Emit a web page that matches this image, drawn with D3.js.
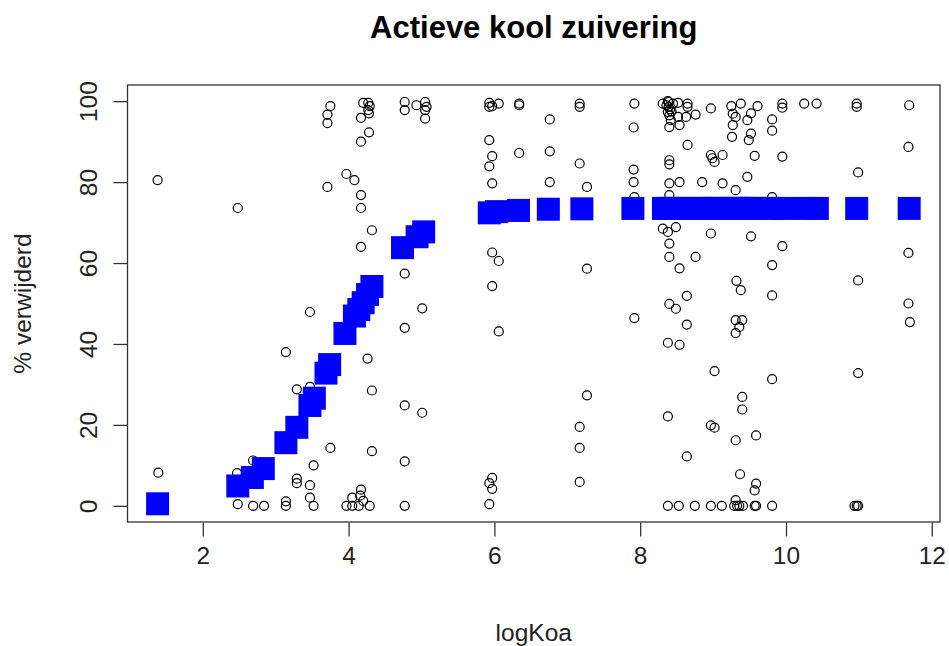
<!DOCTYPE html>
<html>
<head>
<meta charset="utf-8">
<script src="https://cdn.jsdelivr.net/npm/d3@7"></script>
<style>
  body { margin: 0; background: #fff; }
  svg text { font-family: "Liberation Sans", Arial, sans-serif; }
</style>
</head>
<body>
<div id="chart"></div>
<script>
// observed points (open circles)
const logKoa = [
  1.38, 1.39, 2.48, 2.47, 2.48, 2.69, 2.69, 2.84,
  3.14, 3.14, 3.14, 3.29, 3.29, 3.29, 3.47, 3.47, 3.47, 3.47, 3.52, 3.52,
  3.71, 3.71, 3.71, 3.75, 3.75,
  3.97, 4.08, 4.17, 4.17, 4.17, 4.32, 4.17, 4.28, 4.17,
  4.20, 4.27, 4.29, 4.27, 4.28,
  4.26, 4.32, 4.32,
  3.97, 4.05, 4.16, 4.17, 4.05, 4.14, 4.29, 4.20,
  4.77, 4.77, 4.93, 5.05, 5.07, 5.05, 5.05,
  4.77, 4.77, 4.77, 4.77, 4.77, 5.01, 5.01,
  5.93, 5.97, 5.93, 6.06, 6.34, 6.34,
  5.93, 5.97, 5.93, 5.97, 5.97, 6.06, 5.97, 6.06,
  5.97, 5.93, 5.97, 5.93,
  6.34, 6.76, 6.76, 6.76,
  7.17, 7.17, 7.17, 7.27, 7.27, 7.27, 7.17, 7.17, 7.17,
  7.92, 7.91, 7.91, 7.91, 7.92, 7.92,
  8.31, 8.39, 8.39, 8.45, 8.52, 8.65, 8.65, 8.38, 8.40, 8.42, 8.40, 8.52, 8.54, 8.63, 8.76, 8.97, 8.65,
  8.36, 8.41, 8.38, 8.43,
  8.40, 8.40, 8.40, 8.54, 8.40, 8.85,
  8.97, 9.02, 9.13, 8.99,
  9.13, 9.31, 9.47,
  9.25, 9.38, 9.27, 9.31, 9.27, 9.26, 9.47, 9.52, 9.61, 9.49, 9.52, 9.57,
  9.81, 9.81, 9.95, 9.95, 10.25, 10.42, 9.95, 9.81,
  10.97, 10.97, 11.69, 11.68, 10.99,
  8.31, 8.38, 8.49, 8.40, 8.40, 8.54, 8.76, 8.97, 9.52, 9.32, 9.38, 8.64, 8.40, 8.49,
  8.64, 8.38, 8.54,
  9.31, 9.40, 9.36, 9.31,
  9.02, 8.38, 8.97, 9.02, 9.40, 9.40, 9.31, 9.59, 8.64, 9.37, 9.59, 9.57,
  8.38, 8.53, 8.75, 8.97, 9.12, 9.29, 9.36, 9.59, 9.31, 9.33, 9.41, 9.57, 9.81, 10.94, 10.97, 10.99,
  9.95, 9.81, 9.81, 10.99, 11.68, 11.68, 11.70, 10.99, 9.81
];
const pctRemoved = [
  80.5, 8.2, 73.6, 8.1, 0.4, 11.2, 0, 0,
  38, 1.1, 0, 28.8, 6.7, 5.6, 47.9, 29.4, 5.1, 2, 10, 0,
  96.7, 94.6, 78.8, 98.8, 14.3,
  82, 80.5, 76.8, 73.6, 64, 68.1, 95.9, 92.3, 90,
  99.6, 99.6, 98.8, 97.8, 97,
  36.4, 28.5, 13.5,
  0, 2, 2.5, 4, 0, 0, 0, 1.2,
  99.8, 97.8, 99, 99.8, 98.6, 97.8, 95.7,
  57.4, 44, 24.8, 11, 0, 48.8, 23,
  99.6, 98.8, 98.6, 99.4, 99.4, 99,
  90.4, 86.4, 83.9, 79.7, 62.6, 60.5, 54.3, 43.1,
  6.9, 5.6, 4.2, 0.4,
  87.2, 95.5, 87.6, 80,
  99.4, 98.6, 84.6, 78.8, 58.6, 27.3, 19.5, 14.3, 5.9,
  99.4, 93.5, 83.1, 80, 76.3, 46.4,
  99.4, 99.8, 98.6, 99.4, 99.6, 99.4, 98.6, 97.3, 96.5, 95.3, 93.6, 96.1, 94.1, 96.1, 96.7, 98.2, 89.2,
  99, 98, 100, 97.5,
  85.4, 84.4, 79.7, 80, 76.8, 80,
  86.7, 85, 86.7, 85.9,
  79.7, 78, 81.3,
  98.8, 99.4, 96.9, 96.1, 94.1, 91.2, 95.3, 97, 98.8, 90.4, 92, 86.5,
  95.5, 92.7, 99.4, 98.4, 99.4, 99.4, 86.3, 76.3,
  99.4, 98.6, 99, 88.7, 82.4,
  68.5, 67.7, 68.9, 64.8, 61.5, 58.7, 61.5, 67.3, 66.6, 55.6, 53.3, 51.9, 49.9, 48.7,
  44.8, 40.3, 39.8,
  45.9, 45.9, 44.2, 42.7,
  33.3, 22.1, 19.9, 19.3, 26.9, 23.8, 16.2, 17.4, 12.2, 7.8, 5.5, 3.8,
  0, 0, 0, 0, 0, 0, 0, 0, 1.4, 0, 0, 0, 0, 0, 0, 0,
  64.2, 59.5, 52, 55.7, 62.5, 50, 45.4, 32.8, 31.3
];

// model prediction (filled blue squares)
const predX = [
  1.38, 2.48, 2.68, 2.83, 3.14, 3.29, 3.47, 3.53, 3.69, 3.74, 3.95,
  4.08, 4.14, 4.20, 4.26, 4.32, 4.74, 4.94, 5.03,
  5.93, 6.03, 6.33, 6.74, 7.20, 7.90,
  8.32, 8.39, 8.45, 8.52, 8.64, 8.76, 8.85, 8.97, 9.02, 9.13, 9.25, 9.31,
  9.38, 9.47, 9.52, 9.59, 9.81, 9.95, 10.25, 10.43,
  10.97, 11.69
];
const predY = [
  0.5, 4.9, 7.0, 9.2, 15.6, 19.4, 24.8, 26.6, 32.8, 34.9, 42.6,
  46.9, 48.5, 50.2, 52.2, 54.2, 63.8, 66.5, 67.7,
  72.4, 72.7, 73.0, 73.3, 73.4, 73.5,
  73.5, 73.5, 73.5, 73.5, 73.5, 73.5, 73.5, 73.5, 73.5, 73.5, 73.5, 73.5,
  73.5, 73.5, 73.5, 73.5, 73.5, 73.5, 73.5, 73.5,
  73.5, 73.5
];

const xTicks = [2, 4, 6, 8, 10, 12];
const yTicks = [0, 20, 40, 60, 80, 100];

const W = 949, H = 646;
const plot = {left: 127.5, right: 940, top: 85, bottom: 522};
const fs = "24.5px";

const svg = d3.select("#chart").append("svg")
  .attr("width", W).attr("height", H);

// R-style 4% padding around data range
const xr = d3.extent(logKoa), xpad = (xr[1] - xr[0]) * 0.04;
const x = d3.scaleLinear()
  .domain([xr[0] - xpad, xr[1] + xpad])
  .range([plot.left, plot.right]);
const y = d3.scaleLinear()
  .domain([-4, 104])
  .range([plot.bottom, plot.top]);

const obs = logKoa.map((v, i) => ({x: v, y: pctRemoved[i]}));
const pred = predX.map((v, i) => ({x: v, y: predY[i]}));

svg.append("g").selectAll("circle")
  .data(obs).join("circle")
    .attr("cx", d => x(d.x))
    .attr("cy", d => y(d.y))
    .attr("r", 4.5)
    .attr("fill", "none")
    .attr("stroke", "#000")
    .attr("stroke-width", 1.2);

const sq = 23;
svg.append("g").selectAll("rect")
  .data(pred).join("rect")
    .attr("x", d => x(d.x) - sq / 2)
    .attr("y", d => y(d.y) - sq / 2)
    .attr("width", sq)
    .attr("height", sq)
    .attr("fill", "#0000ff");

// box
svg.append("rect")
  .attr("x", plot.left).attr("y", plot.top)
  .attr("width", plot.right - plot.left)
  .attr("height", plot.bottom - plot.top)
  .attr("fill", "none").attr("stroke", "#333").attr("stroke-width", 1.3);

// axes
const xAxis = svg.append("g")
  .attr("transform", `translate(0,${plot.bottom + 0.5})`)
  .call(d3.axisBottom(x).tickValues(xTicks).tickSize(14).tickSizeOuter(0).tickPadding(8));
const yAxis = svg.append("g")
  .attr("transform", `translate(${plot.left},0)`)
  .call(d3.axisLeft(y).tickValues(yTicks).tickSize(14).tickSizeOuter(0).tickPadding(10));

[xAxis, yAxis].forEach(g => {
  g.select(".domain").remove();
  g.selectAll(".tick line").attr("stroke", "#333").attr("stroke-width", 1.3);
  g.selectAll(".tick text").attr("fill", "#222").style("font-size", fs);
});
xAxis.selectAll(".tick text").attr("dy", "0.8em");
yAxis.selectAll(".tick text")
  .attr("text-anchor", "middle")
  .attr("transform", `translate(-39,0) rotate(-90)`)
  .attr("x", 0).attr("dy", "0.35em");

svg.append("text")
  .attr("x", (plot.left + plot.right) / 2).attr("y", 27)
  .attr("text-anchor", "middle").attr("dy", "0.35em")
  .style("font-size", "31px").style("font-weight", "bold")
  .text("Actieve kool zuivering");

svg.append("text")
  .attr("x", (plot.left + plot.right) / 2).attr("y", 632)
  .attr("text-anchor", "middle").attr("dy", "0.35em")
  .attr("fill", "#222")
  .style("font-size", fs)
  .text("logKoa");

svg.append("text")
  .attr("transform", `translate(22,${(plot.top + plot.bottom) / 2}) rotate(-90)`)
  .attr("text-anchor", "middle").attr("dy", "0.35em")
  .attr("fill", "#222")
  .style("font-size", fs)
  .text("% verwijderd");
</script>
</body>
</html>
